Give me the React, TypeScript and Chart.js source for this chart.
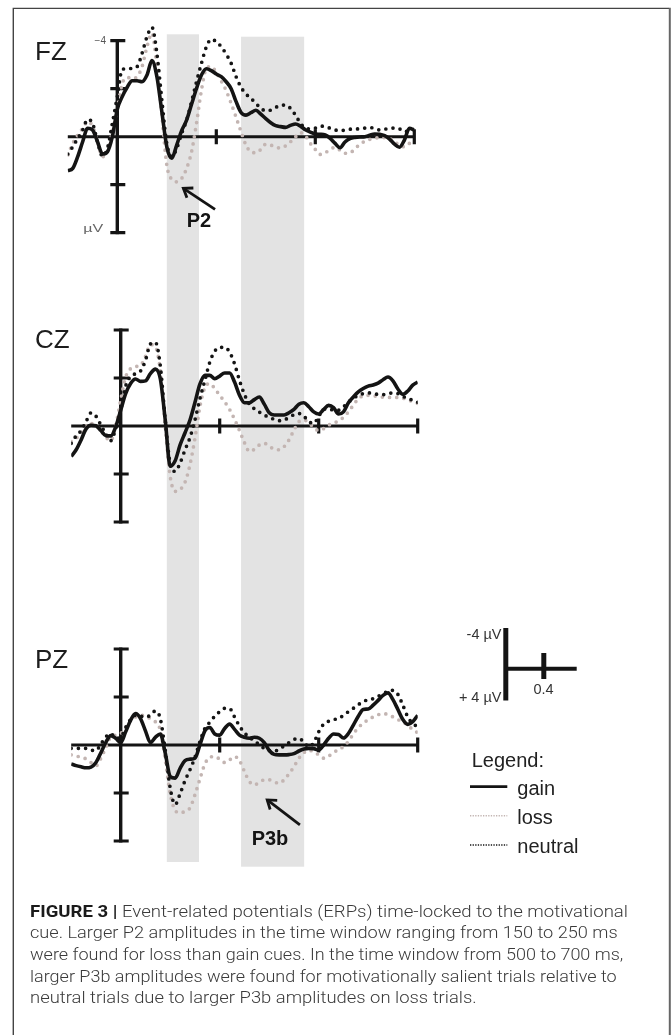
import React, { useEffect, useRef } from "react";
import { Chart, registerables } from "chart.js";

Chart.register(...registerables);

// ---------- DATA ----------
// time in seconds relative to cue onset
const TIMES = [
  -0.2, -0.18, -0.16, -0.14, -0.12, -0.1, -0.08, -0.06, -0.04, -0.02,
  0.0, 0.02, 0.04, 0.06, 0.08, 0.1, 0.12, 0.14, 0.16, 0.18,
  0.2, 0.22, 0.24, 0.26, 0.28, 0.3, 0.32, 0.34, 0.36, 0.38,
  0.4, 0.42, 0.44, 0.46, 0.48, 0.5, 0.52, 0.54, 0.56, 0.58,
  0.6, 0.62, 0.64, 0.66, 0.68, 0.7, 0.72, 0.74, 0.76, 0.78,
  0.8, 0.82, 0.84, 0.86, 0.88, 0.9, 0.92, 0.94, 0.96, 0.98,
  1.0, 1.02, 1.04, 1.06, 1.08, 1.1, 1.12, 1.14, 1.16, 1.18,
  1.2,
];

// amplitudes in µV (negative plotted upwards)
const FZ_GAIN = [
  1.42, 1.32, 0.83, 0.21, -0.35, -0.28, 0.21, 0.72, 0.63, 0.0,
  -1.14, -1.67, -2.06, -2.33, -2.33, -2.29, -2.57, -3.17, -2.5, -1.04,
  0.42, 0.9, 0.35, -0.25, -0.69, -1.35, -2.01, -2.57, -2.83, -2.75,
  -2.61, -2.5, -2.29, -2.0, -1.46, -1.01, -0.9, -1.0, -1.1, -0.94,
  -0.75, -0.58, -0.46, -0.42, -0.39, -0.47, -0.53, -0.44, -0.29, -0.19,
  -0.11, -0.1, -0.07, 0.07, 0.28, 0.46, 0.22, 0.08, 0.03, 0.01,
  0.0, -0.06, -0.11, -0.1, -0.04, 0.1, 0.31, 0.44, 0.14, -0.35,
  -0.28,
];
const FZ_NEUTRAL = [
  0.72, 0.42, 0.07, -0.28, -0.72, -0.56, 0.21, 0.81, 0.49, -0.56,
  -1.67, -2.81, -2.83, -2.85, -2.92, -3.47, -4.17, -4.56, -3.47, -1.53,
  0.28, 0.83, 0.49, -0.14, -0.69, -1.46, -2.29, -3.06, -3.75, -4.06,
  -3.96, -3.75, -3.44, -3.06, -2.5, -2.06, -1.78, -1.6, -1.39, -1.18,
  -1.08, -1.11, -1.22, -1.31, -1.32, -1.18, -0.9, -0.56, -0.36, -0.33,
  -0.36, -0.44, -0.42, -0.35, -0.28, -0.25, -0.28, -0.31, -0.32, -0.33,
  -0.36, -0.38, -0.35, -0.28, -0.31, -0.35, -0.36, -0.33, -0.21, -0.25,
  -0.31,
];
const FZ_LOSS = [
  0.76, 0.28, -0.07, -0.35, -0.63, -0.44, 0.21, 0.83, 0.63, -0.21,
  -1.18, -2.22, -2.47, -2.42, -2.5, -2.92, -3.75, -4.31, -2.92, -0.9,
  1.18, 1.78, 1.88, 1.74, 1.32, 0.63, -0.56, -1.94, -2.85, -2.92,
  -2.67, -2.32, -1.92, -1.39, -0.81, -0.21, 0.35, 0.63, 0.67, 0.53,
  0.31, 0.35, 0.44, 0.47, 0.38, 0.21, 0.0, -0.17, -0.03, 0.28,
  0.53, 0.74, 0.67, 0.53, 0.44, 0.56, 0.69, 0.67, 0.51, 0.31,
  0.19, 0.11, 0.07, 0.03, 0.04, 0.07, 0.21, 0.35, 0.42, 0.28,
  0.14,
];
const CZ_GAIN = [
  1.27, 0.99, 0.58, 0.12, -0.03, -0.01, 0.19, 0.4, 0.41, 0.03,
  -0.66, -1.35, -1.77, -1.96, -1.86, -1.88, -2.18, -2.37, -1.97, -0.25,
  1.68, 1.45, 0.79, 0.28, -0.25, -0.98, -1.74, -2.11, -2.11, -1.97,
  -2.08, -2.21, -2.21, -1.83, -1.28, -0.97, -0.97, -1.1, -1.21, -0.91,
  -0.55, -0.46, -0.46, -0.46, -0.55, -0.69, -0.91, -0.97, -0.8, -0.59,
  -0.5, -0.69, -0.86, -0.77, -0.5, -0.59, -0.97, -1.21, -1.42, -1.56,
  -1.66, -1.71, -1.79, -1.93, -2.04, -1.88, -1.54, -1.32, -1.46, -1.7,
  -1.83,
];
const CZ_NEUTRAL = [
  0.72, 0.41, 0.19, -0.18, -0.55, -0.41, -0.04, 0.33, 0.61, 0.1,
  -0.66, -1.66, -2.07, -2.18, -2.29, -2.73, -3.42, -3.49, -2.52, -0.25,
  1.57, 1.89, 1.54, 0.99, 0.48, -0.25, -1.14, -1.9, -2.66, -3.12,
  -3.28, -3.28, -3.08, -2.59, -1.9, -1.32, -0.91, -0.72, -0.58, -0.46,
  -0.36, -0.28, -0.22, -0.25, -0.36, -0.47, -0.52, -0.41, -0.18, -0.11,
  -0.41, -0.69, -0.72, -0.66, -0.66, -0.8, -0.99, -1.16, -1.27, -1.35,
  -1.38, -1.35, -1.32, -1.31, -1.35, -1.38, -1.35, -1.24, -1.14, -1.08,
  -0.99,
];
const CZ_LOSS = [
  0.65, 0.51, 0.3, -0.03, -0.11, 0.0, 0.19, 0.47, 0.61, -0.04,
  -1.08, -2.04, -2.39, -2.48, -2.52, -2.9, -3.39, -3.31, -2.32, 0.03,
  2.1, 2.72, 2.65, 2.34, 1.61, 0.51, -0.8, -1.6, -1.77, -1.56,
  -1.28, -1.01, -0.69, -0.28, 0.19, 0.69, 1.06, 0.97, 0.79, 0.72,
  0.83, 0.97, 0.99, 0.86, 0.58, 0.17, -0.18, -0.25, -0.14, 0.06,
  0.19, 0.11, -0.04, -0.11, -0.22, -0.36, -0.59, -0.87, -1.14, -1.26,
  -1.28, -1.26, -1.23, -1.2, -1.19, -1.19, -1.19, -1.16, -1.1, -1.01,
  -0.94,
];
const PZ_GAIN = [
  0.79, 0.86, 0.91, 0.95, 0.92, 0.73, 0.32, -0.11, -0.39, -0.28,
  -0.1, -0.55, -1.03, -1.31, -1.1, -0.59, -0.1, -0.32, -0.46, 0.34,
  1.31, 1.38, 0.97, 0.65, 0.59, 0.55, 0.0, -0.59, -0.73, -0.46,
  -0.41, -0.69, -0.87, -0.65, -0.41, -0.32, -0.28, -0.32, -0.28, -0.1,
  0.23, 0.39, 0.41, 0.41, 0.4, 0.36, 0.25, 0.17, 0.14, 0.15,
  0.21, 0.0, -0.28, -0.46, -0.44, -0.29, -0.48, -0.83, -1.2, -1.48,
  -1.5, -1.66, -1.86, -2.07, -2.17, -1.89, -1.48, -1.06, -0.86, -0.97,
  -1.24,
];
const PZ_NEUTRAL = [
  0.14, 0.14, 0.14, 0.14, 0.21, 0.23, -0.04, -0.34, -0.48, -0.28,
  -0.32, -0.73, -1.06, -1.24, -1.2, -1.17, -1.24, -1.42, -1.1, 0.21,
  1.79, 2.48, 2.03, 1.48, 1.03, 0.51, -0.14, -0.69, -0.95, -1.2,
  -1.39, -1.53, -1.52, -1.17, -0.79, -0.51, -0.32, -0.18, -0.01, 0.14,
  0.23, 0.26, 0.17, 0.04, -0.1, -0.23, -0.28, -0.12, 0.07, -0.1,
  -0.55, -0.87, -0.99, -1.06, -1.1, -1.24, -1.39, -1.53, -1.68, -1.81,
  -1.89, -1.93, -2.03, -2.14, -2.23, -2.28, -2.11, -1.66, -1.17, -0.9,
  -0.76,
];
const PZ_LOSS = [
  0.41, 0.46, 0.51, 0.58, 0.73, 0.87, 0.55, 0.1, -0.34, -0.41,
  -0.48, -0.72, -1.03, -1.17, -1.24, -1.2, -1.1, -0.97, -0.62, 0.62,
  2.03, 2.72, 2.83, 2.76, 2.62, 2.07, 1.42, 0.79, 0.51, 0.48,
  0.59, 0.73, 0.62, 0.48, 0.65, 1.1, 1.52, 1.66, 1.56, 1.45,
  1.45, 1.54, 1.59, 1.45, 1.2, 0.9, 0.55, 0.32, 0.22, 0.28,
  0.41, 0.55, 0.46, 0.32, 0.18, 0.07, -0.15, -0.46, -0.73, -0.9,
  -1.06, -1.17, -1.26, -1.31, -1.27, -1.17, -1.06, -0.97, -0.81, -0.65,
  -0.51,
];

// analysis windows (s)
const BAND_STARTS = [0.2, 0.5];
const BAND_ENDS = [0.33, 0.755];

// axis ticks
const X_TICKS = [0.4, 0.8, 1.2];
const Y_TICKS = [-4, -2, 2, 4];

// annotation arrows [tail, head] in (s, µV)
const P2_ARROW_T = [0.395, 0.267];
const P2_ARROW_V = [3.03, 2.15];
const P3B_ARROW_T = [0.724, 0.592];
const P3B_ARROW_V = [3.33, 2.29];

const CAPTION_LINES = [
  "cue. Larger P2 amplitudes in the time window ranging from 150 to 250 ms",
  "were found for loss than gain cues. In the time window from 500 to 700 ms,",
  "larger P3b amplitudes were found for motivationally salient trials relative to",
  "neutral trials due to larger P3b amplitudes on loss trials.",
];

// ---------- LAYOUT / STYLE ----------
const W = 672;
const H = 1035;
const PX_PER_SEC = 247.5;
const PX_PER_UV = 24;
const Y_LIM = 5;
const LOSS_COLOR = "#c3b5b2";
const INK = "#141414";
const BAND_COLOR = "#e3e3e3";
const BAND_TOPS = [34.3, 36.7];
const BAND_BOTTOMS = [862, 866.7];

type Panel = {
  id: string;
  top: number;
  height: number;
  zeroX: number;
  zeroY: number;
  gain: number[];
  loss: number[];
  neutral: number[];
  bands: boolean;
  arrowT?: number[];
  arrowV?: number[];
};

const PANELS: Panel[] = [
  { id: "FZ", top: 0, height: 880, zeroX: 117.3, zeroY: 136.7, gain: FZ_GAIN, loss: FZ_LOSS, neutral: FZ_NEUTRAL, bands: true, arrowT: P2_ARROW_T, arrowV: P2_ARROW_V },
  { id: "CZ", top: 290, height: 300, zeroX: 120.7, zeroY: 426, gain: CZ_GAIN, loss: CZ_LOSS, neutral: CZ_NEUTRAL, bands: false },
  { id: "PZ", top: 600, height: 280, zeroX: 120.7, zeroY: 745, gain: PZ_GAIN, loss: PZ_LOSS, neutral: PZ_NEUTRAL, bands: false, arrowT: P3B_ARROW_T, arrowV: P3B_ARROW_V },
];

const toPoints = (vals: number[]) => TIMES.map((t, i) => ({ x: t, y: vals[i] }));

const erpPlugin = {
  id: "erp",
  beforeDatasetsDraw(chart: any, _args: any, opts: any) {
    const { ctx } = chart;
    const xs = chart.scales.x;
    const ys = chart.scales.y;
    ctx.save();
    if (opts.bands) {
      ctx.fillStyle = BAND_COLOR;
      BAND_STARTS.forEach((s, i) => {
        const x0 = xs.getPixelForValue(s);
        const x1 = xs.getPixelForValue(BAND_ENDS[i]);
        const y0 = BAND_TOPS[i] - opts.canvasTop;
        ctx.fillRect(x0, y0, x1 - x0, BAND_BOTTOMS[i] - BAND_TOPS[i]);
      });
    }
    const y0 = ys.getPixelForValue(0);
    const x0 = xs.getPixelForValue(0);
    ctx.strokeStyle = INK;
    ctx.lineCap = "butt";
    // horizontal time axis
    ctx.lineWidth = 3;
    ctx.beginPath();
    ctx.moveTo(xs.getPixelForValue(TIMES[0]), y0);
    ctx.lineTo(xs.getPixelForValue(TIMES[TIMES.length - 1]), y0);
    ctx.stroke();
    ctx.lineWidth = 3.2;
    ctx.beginPath();
    X_TICKS.forEach((t) => {
      const px = xs.getPixelForValue(t);
      ctx.moveTo(px, y0 - 7.5);
      ctx.lineTo(px, y0 + 7.5);
    });
    ctx.stroke();
    // vertical amplitude axis
    ctx.lineWidth = 3.4;
    ctx.beginPath();
    ctx.moveTo(x0, ys.getPixelForValue(-4) - 1.5);
    ctx.lineTo(x0, ys.getPixelForValue(4) + 1.5);
    ctx.stroke();
    ctx.lineWidth = 3.2;
    ctx.beginPath();
    Y_TICKS.forEach((v) => {
      const py = ys.getPixelForValue(v);
      ctx.moveTo(x0 - 7, py);
      ctx.lineTo(x0 + 8, py);
    });
    ctx.stroke();
    ctx.restore();
  },
  afterDatasetsDraw(chart: any, _args: any, opts: any) {
    if (!opts.arrowT) return;
    const { ctx } = chart;
    const xs = chart.scales.x;
    const ys = chart.scales.y;
    const tx = xs.getPixelForValue(opts.arrowT[0]);
    const ty = ys.getPixelForValue(opts.arrowV[0]);
    const hx = xs.getPixelForValue(opts.arrowT[1]);
    const hy = ys.getPixelForValue(opts.arrowV[1]);
    const ang = Math.atan2(hy - ty, hx - tx);
    const L = 10;
    const A = 0.62;
    ctx.save();
    ctx.strokeStyle = INK;
    ctx.lineWidth = 2.8;
    ctx.lineCap = "butt";
    ctx.lineJoin = "miter";
    ctx.beginPath();
    ctx.moveTo(tx, ty);
    ctx.lineTo(hx, hy);
    ctx.stroke();
    ctx.beginPath();
    ctx.moveTo(hx - L * Math.cos(ang - A), hy - L * Math.sin(ang - A));
    ctx.lineTo(hx, hy);
    ctx.lineTo(hx - L * Math.cos(ang + A), hy - L * Math.sin(ang + A));
    ctx.stroke();
    ctx.restore();
  },
};

function ErpPanel({ p }: { p: Panel }) {
  const ref = useRef<HTMLCanvasElement | null>(null);
  useEffect(() => {
    if (!ref.current) return;
    const left = p.zeroX + TIMES[0] * PX_PER_SEC;
    const right = p.zeroX + TIMES[TIMES.length - 1] * PX_PER_SEC;
    const top = p.zeroY - Y_LIM * PX_PER_UV - p.top;
    const bottom = p.top + p.height - (p.zeroY + Y_LIM * PX_PER_UV);
    const dot = {
      borderWidth: 3.7,
      borderCapStyle: "round",
      borderDash: [0, 7.2],
      pointRadius: 0,
      cubicInterpolationMode: "monotone",
      fill: false,
    };
    const chart = new Chart(ref.current, {
      type: "line",
      data: {
        datasets: [
          { label: "gain", data: toPoints(p.gain), borderColor: INK, borderWidth: 3.6, pointRadius: 0, cubicInterpolationMode: "monotone", fill: false, borderJoinStyle: "round" },
          { label: "neutral", data: toPoints(p.neutral), borderColor: INK, ...dot },
          { label: "loss", data: toPoints(p.loss), borderColor: LOSS_COLOR, ...dot },
        ],
      } as any,
      options: {
        animation: false,
        responsive: false,
        maintainAspectRatio: false,
        devicePixelRatio: 1,
        events: [],
        layout: { padding: { left, right: W - right, top, bottom } },
        scales: {
          x: { type: "linear", min: TIMES[0], max: TIMES[TIMES.length - 1], display: false },
          y: { type: "linear", min: -Y_LIM, max: Y_LIM, reverse: true, display: false },
        },
        plugins: {
          legend: { display: false },
          tooltip: { enabled: false },
          erp: { bands: p.bands, canvasTop: p.top, arrowT: p.arrowT, arrowV: p.arrowV },
        },
      } as any,
      plugins: [erpPlugin],
    });
    return () => chart.destroy();
  }, [p]);
  return (
    <canvas
      ref={ref}
      width={W}
      height={p.height}
      style={{ position: "absolute", left: 0, top: p.top, width: W, height: p.height, display: "block" }}
    />
  );
}

const SANS = "'Liberation Sans', Arial, sans-serif";
const CAP_FONT = "Roboto, 'Liberation Sans', sans-serif";

export default function App() {
  const capY = [938.3, 960, 981.7, 1003.3];
  const capLen = [587.7, 593.3, 586.7, 446.7];
  return (
    <div style={{ position: "absolute", left: 0, top: 0, width: W, height: H, overflow: "hidden", background: "#fff" }}>
      {PANELS.map((p) => (
        <ErpPanel key={p.id} p={p} />
      ))}
      <svg width={W} height={H} style={{ position: "absolute", left: 0, top: 0, pointerEvents: "none" }}>
        {/* frame */}
        <path d="M13.3 1040 V8.4 H669" fill="none" stroke="#444" strokeWidth={1.4} />
        <line x1={669.8} y1={7.8} x2={669.8} y2={1040} stroke="#666" strokeWidth={2} />

        {/* panel labels */}
        <g fontFamily={SANS} fontSize={26} fill="#1d1d1d">
          <text x={35} y={60}>FZ</text>
          <text x={35} y={348.3}>CZ</text>
          <text x={35} y={668.3}>PZ</text>
        </g>
        <text x={106} y={44} textAnchor="end" fontFamily={SANS} fontSize={10} fill="#555">−4</text>
        <text x={83.3} y={231.5} fontFamily={SANS} fontSize={10.5} fill="#666" textLength={20} lengthAdjust="spacingAndGlyphs">µV</text>

        {/* component labels */}
        <text x={199} y={226.7} textAnchor="middle" fontFamily={SANS} fontWeight="bold" fontSize={20} fill={INK}>P2</text>
        <text x={270} y={845} textAnchor="middle" fontFamily={SANS} fontWeight="bold" fontSize={20} fill={INK}>P3b</text>

        {/* scale bar */}
        <line x1={505.8} y1={628} x2={505.8} y2={700.5} stroke={INK} strokeWidth={5} />
        <line x1={508} y1={668.8} x2={576.7} y2={668.8} stroke={INK} strokeWidth={4} />
        <line x1={543.8} y1={653} x2={543.8} y2={679} stroke={INK} strokeWidth={5} />
        <g fontFamily={SANS} fontSize={14.5} fill="#333">
          <text x={501.5} y={638.5} textAnchor="end">-4 µV</text>
          <text x={501.5} y={701.7} textAnchor="end">+ 4 µV</text>
          <text x={543.5} y={694} textAnchor="middle">0.4</text>
        </g>

        {/* legend */}
        <g fontFamily={SANS} fontSize={20} fill="#222">
          <text x={471.7} y={767.3}>Legend:</text>
          <text x={517.3} y={795}>gain</text>
          <text x={517.3} y={823.5}>loss</text>
          <text x={517.3} y={852.5}>neutral</text>
        </g>
        <line x1={470} y1={786.7} x2={507.3} y2={786.7} stroke={INK} strokeWidth={2.8} />
        <line x1={470} y1={815.7} x2={507.3} y2={815.7} stroke={LOSS_COLOR} strokeWidth={1.6} strokeDasharray="1.3 1.3" />
        <line x1={470} y1={845} x2={507.3} y2={845} stroke={INK} strokeWidth={1.6} strokeDasharray="1.3 1.3" />

        {/* caption */}
        <g fontFamily={CAP_FONT} fontSize={17} fill="#3a3a3a" style={{ whiteSpace: "pre" }}>
          <text x={30} y={916.7} textLength={598} lengthAdjust="spacingAndGlyphs">
            <tspan fontWeight="bold" fill="#1a1a1a">FIGURE 3 |</tspan>
            <tspan fontWeight={300}> Event-related potentials (ERPs) time-locked to the motivational</tspan>
          </text>
          {CAPTION_LINES.map((s, i) => (
            <text key={i} x={30} y={capY[i]} textLength={capLen[i]} lengthAdjust="spacingAndGlyphs" fontWeight={300}>
              {s}
            </text>
          ))}
        </g>
      </svg>
    </div>
  );
}
